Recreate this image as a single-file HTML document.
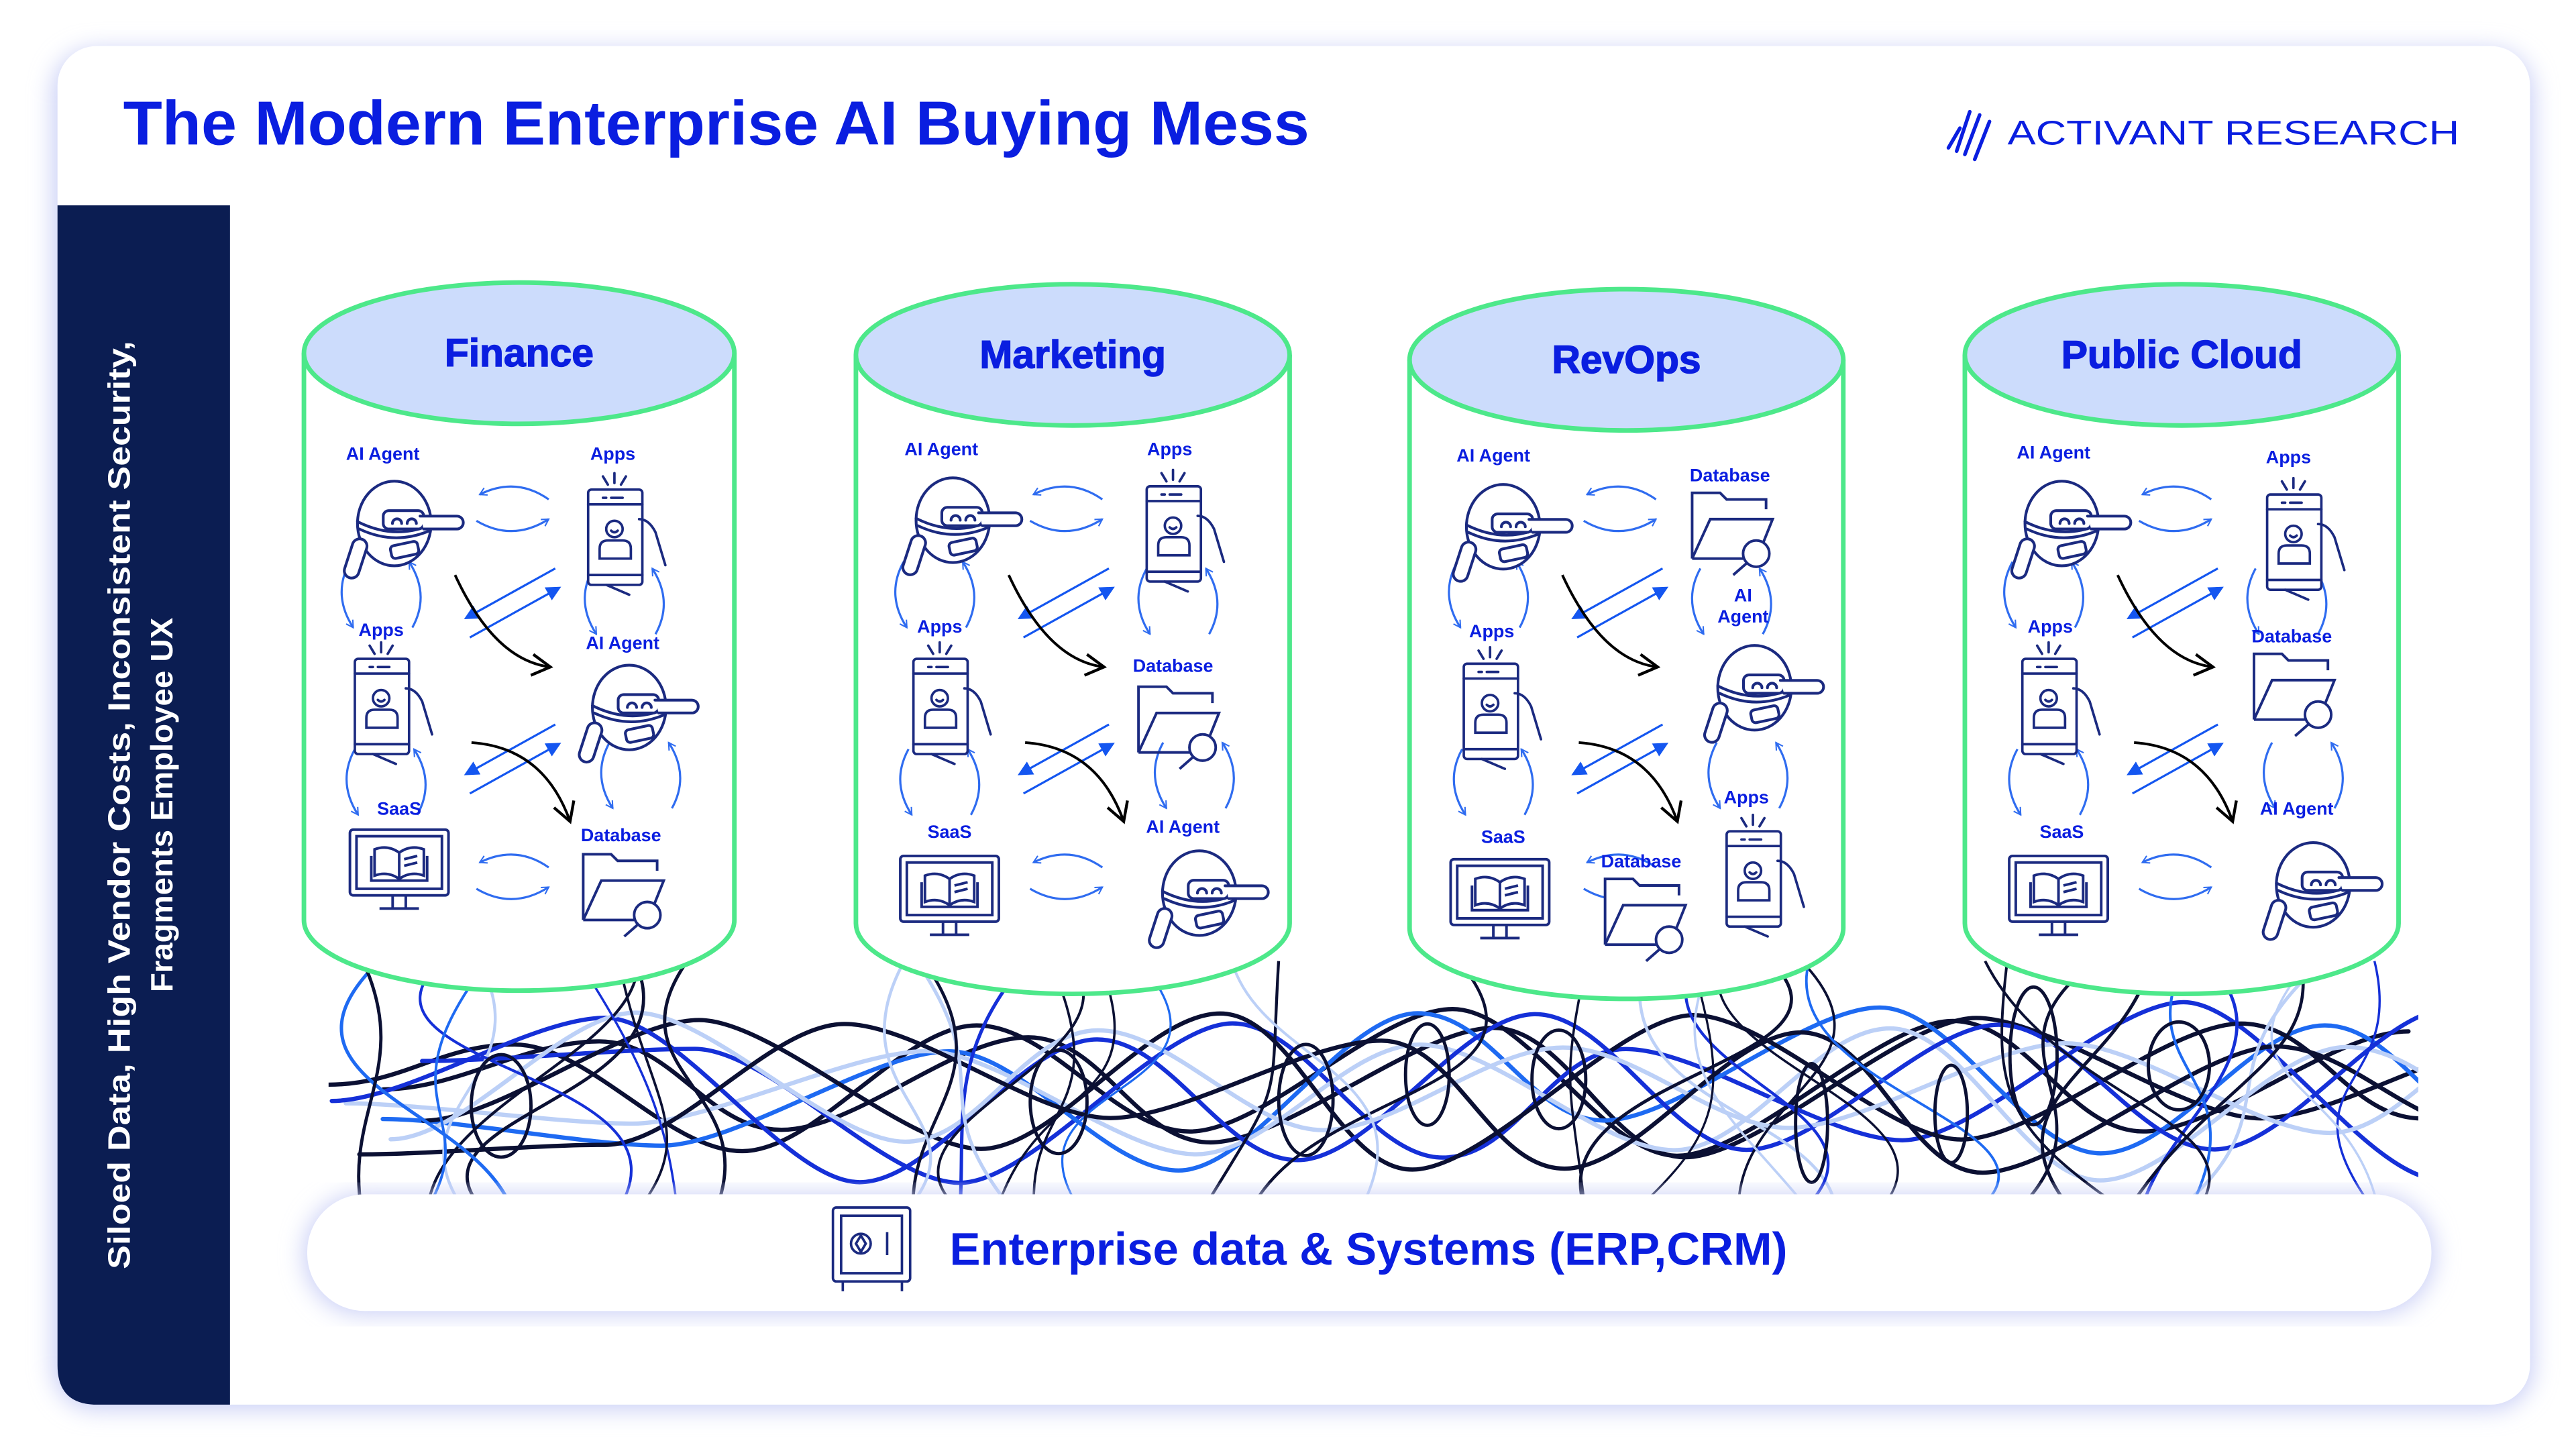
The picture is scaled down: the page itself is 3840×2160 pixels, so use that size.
<!DOCTYPE html>
<html><head><meta charset="utf-8">
<style>
html,body{margin:0;padding:0;background:#fff;width:3840px;height:2160px;overflow:hidden}
svg{display:block}
text{font-family:"Liberation Sans",sans-serif}
</style></head>
<body>
<svg id="s" width="3840" height="2160" viewBox="0 0 1568 882" xmlns="http://www.w3.org/2000/svg">
<defs>
<clipPath id="wc"><rect x="200" y="560" width="1272" height="190"/></clipPath>
<filter id="sh" x="-10%" y="-10%" width="120%" height="120%"><feGaussianBlur stdDeviation="7"/></filter>
<marker id="oa" viewBox="0 0 10 10" refX="8" refY="5" markerWidth="6" markerHeight="6" orient="auto" markerUnits="userSpaceOnUse"><path d="M1,1 L8,5 L1,9" fill="none" stroke="#2f6cf0" stroke-width="1.4"/></marker>
<marker id="ba" viewBox="0 0 10 10" refX="8" refY="5" markerWidth="16" markerHeight="16" orient="auto" markerUnits="userSpaceOnUse"><path d="M1,1 L8,5 L1,9" fill="none" stroke="#000" stroke-width="1.1"/></marker>
<marker id="fa" viewBox="0 0 10 10" refX="8" refY="5" markerWidth="9" markerHeight="9" orient="auto" markerUnits="userSpaceOnUse"><path d="M0,0 L10,5 L0,10 z" fill="#1456f0"/></marker>
<g id="robot" fill="none" stroke="#1b2a80" stroke-width="1.5" stroke-linecap="round" transform="scale(1.12)">
<ellipse cx="0" cy="-3" rx="20" ry="23" fill="#fff"/>
<path d="M-20,-4 Q0,6 19,-2"/><path d="M-19,0 Q0,9 19,1"/>
<rect x="-6" y="-10" width="22" height="10" rx="3" fill="#fff"/>
<path d="M14,-7 H34 a3.5,3.5 0 0 1 0,7 H16" fill="#fff"/>
<path d="M-1,-3 a2.5,2.5 0 0 1 5,0 M7,-3 a2.5,2.5 0 0 1 5,0"/>
<rect x="-2" y="8" width="15" height="7" rx="2" transform="rotate(-12 5 11)"/>
<rect x="-25" y="5" width="8" height="22" rx="4" transform="rotate(18 -21 16)" fill="#fff"/>
</g>
<g id="phone" fill="none" stroke="#1b2a80" stroke-width="1.5" stroke-linecap="round">
<rect x="-17" y="-26" width="33" height="58" rx="2" fill="#fff"/>
<path d="M-17,-17 H16 M-17,26 H16 M-8,-21 H-6 M-3,-21 H4"/>
<circle cx="-1" cy="-2" r="5"/><path d="M-3,-1 Q-1,1 1,-1"/>
<path d="M-10,16 V10 Q-10,5 -5,5 H4 Q9,5 9,10 V16 Z"/>
<path d="M14,-8 Q20,-8 24,0 L30,20 M-6,32 L8,38"/>
<path d="M-8,-34 L-5,-29 M-1,-36 V-30 M6,-34 L3,-29"/>
</g>
<g id="monitor" fill="none" stroke="#1b2a80" stroke-width="1.6">
<rect x="-30" y="-22" width="60" height="40" rx="2" fill="#fff"/>
<rect x="-26" y="-18" width="52" height="32"/>
<path d="M-15,6 V-10 Q-7,-13 0,-8 Q7,-13 15,-10 V6 Q7,3 0,8 Q-7,3 -15,6 Z M0,-8 V8 M3,-4 L11,-6 M3,0 L11,-2"/>
<path d="M-17,-6 V9 H17 V-6"/>
<path d="M-4,18 V26 M4,18 V26 M-12,26 H12"/>
</g>
<g id="folder" fill="none" stroke="#1b2a80" stroke-width="1.6">
<path d="M-25,20 V-20 H-8 L-4,-16 H20 V-10" fill="#fff"/>
<path d="M-25,20 L-14,-4 H24 L16,16"/>
<path d="M-25,20 H6"/>
<circle cx="14" cy="17" r="8" fill="#fff"/>
<path d="M8,23 L0,30"/>
</g>
<g id="hpair" fill="none" stroke="#2f6cf0" stroke-width="1.3">
<path d="M22,-6 Q2,-20 -20,-9" marker-end="url(#oa)"/>
<path d="M-22,7 Q0,20 22,6" marker-end="url(#oa)"/>
</g>
<g id="vpair" fill="none" stroke="#2f6cf0" stroke-width="1.3">
<path d="M-19,-20 Q-30,0 -17,20" marker-end="url(#oa)"/>
<path d="M19,20 Q30,0 17,-20" marker-end="url(#oa)"/>
</g>
<g id="diag" fill="none" stroke="#1456f0" stroke-width="1.3">
<path d="M28,-24 L-26,6" marker-end="url(#fa)"/>
<path d="M-24,18 L30,-12" marker-end="url(#fa)"/>
</g>
</defs>

<rect x="32" y="30" width="1510" height="828" rx="26" fill="#c9cff6" filter="url(#sh)"/>
<rect x="35" y="28" width="1505" height="827" rx="24" fill="#fff"/>
<path d="M35,125 H140 V855 H59 Q35,855 35,831 Z" fill="#0b1d52"/>
<g transform="translate(87,490) rotate(-90)" fill="#fff" font-weight="bold" font-size="19" text-anchor="middle">
<text x="0" y="-8" textLength="565" lengthAdjust="spacingAndGlyphs">Siloed Data, High Vendor Costs, Inconsistent Security,</text>
<text x="0" y="18" textLength="228" lengthAdjust="spacingAndGlyphs">Fragments Employee UX</text>
</g>
<text x="75" y="88" font-size="38" font-weight="bold" fill="#0a1ee0" textLength="722" lengthAdjust="spacingAndGlyphs">The Modern Enterprise AI Buying Mess</text>
<g stroke="#0a1ee0" stroke-width="2.2" stroke-linecap="round">
<path d="M1199,68 L1191,92 M1205,70 L1196,94 M1211,74 L1202,97 M1193,78 L1186,90"/>
</g>
<text x="1222" y="88" font-size="21" fill="#0a1ee0" textLength="275" lengthAdjust="spacingAndGlyphs">ACTIVANT RESEARCH</text>

<g id="wires" clip-path="url(#wc)"></g>
<g id="cyls"></g>

<rect x="185" y="727" width="1297" height="73" rx="36" fill="#c9cff6" filter="url(#sh)"/>
<rect x="187" y="727" width="1293" height="71" rx="35" fill="#fff"/>
<g fill="none" stroke="#1b2a80" stroke-width="1.5">
<rect x="507" y="735" width="47" height="45" rx="2"/>
<rect x="512" y="740" width="37" height="35"/>
<circle cx="524" cy="757" r="6"/><path d="M524,752 L527,757 L524,762 L521,757 Z"/>
<path d="M540,750 V764 M513,780 V786 M549,780 V786"/>
</g>
<text x="578" y="770" font-size="28" font-weight="bold" fill="#0a1ee0" textLength="510" lengthAdjust="spacingAndGlyphs">Enterprise data &amp; Systems (ERP,CRM)</text>
</svg>
<script>
(function(){
var NS="http://www.w3.org/2000/svg";
function el(p,t,a,txt){var e=document.createElementNS(NS,t);for(var k in a)e.setAttribute(k,a[k]);if(txt)e.textContent=txt;p.appendChild(e);return e;}
var seed=11;function r(){seed=(seed*16807)%2147483647;return (seed-1)/2147483646;}
var W=document.getElementById('wires');
var cols=["#0b1033","#0b1033","#0b1033","#1530d8","#1e6af2","#bcd0f7"];
var thick=["#0b1033","#0b1033","#1530d8","#1e6af2","#bcd0f7","#0b1033","#1530d8","#bcd0f7","#0b1033"];
for(var i=0;i<thick.length;i++){
 var c=thick[i];
 var x=200+r()*60, y=620+r()*90, d="M"+x+","+y, up=r()<0.5;
 while(x<1440){var nx=x+110+r()*70,ny=up?(610+r()*30):(680+r()*40);up=!up;
  d+=" C"+(x+45)+","+y+" "+(nx-45)+","+ny+" "+nx+","+ny;x=nx;y=ny;}
 el(W,'path',{d:d,fill:"none",stroke:c,"stroke-width":2.6,"stroke-linecap":"round"});
}
var ranges=[[205,440],[530,780],[870,1115],[1205,1455]];
for(var i=0;i<40;i++){
 var R=ranges[i%4];var x0=R[0]+r()*(R[1]-R[0]);
 var x1=x0+(r()-0.5)*260; if(x1<210)x1=210+r()*20; if(x1>1465)x1=1450-r()*20;
 var c=cols[Math.floor(r()*cols.length)];
 var d="M"+x0+",585 C"+(x0+(r()-0.5)*160)+","+(640+r()*40)+" "+(x1+(r()-0.5)*160)+","+(650+r()*40)+" "+x1+",740";
 el(W,'path',{d:d,fill:"none",stroke:c,"stroke-width":1.3+r()*0.8});
}
for(var i=0;i<9;i++){
 var cx=240+r()*1200, cy=640+r()*50, c=cols[Math.floor(r()*3)];
 el(W,'ellipse',{cx:cx,cy:cy,rx:8+r()*12,ry:25+r()*18,fill:"none",stroke:c,"stroke-width":2});
}
var C=document.getElementById('cyls');
var cyl=[
 {cx:316,rx:131,top:215,bot:560,name:"Finance",items:[["robot","AI Agent",233,276,240,322],["phone","Apps",373,276,375,324],["phone","Apps",232,383,233,427],["robot","AI Agent",379,391,383,434],["monitor","SaaS",243,492,243,527],["folder","Database",378,508,380,540]]},
 {cx:653,rx:132,top:216,bot:562,name:"Marketing",items:[["robot","AI Agent",573,273,580,320],["phone","Apps",712,273,715,322],["phone","Apps",572,381,573,427],["folder","Database",714,405,718,438],["monitor","SaaS",578,506,578,543],["robot","AI Agent",720,503,730,547]]},
 {cx:990,rx:132,top:219,bot:565,name:"RevOps",items:[["robot","AI Agent",909,277,915,324],["folder","Database",1053,289,1055,320],["robot","AI Agent",1061,370,1068,422],["phone","Apps",908,384,908,430],["monitor","SaaS",915,509,913,545],["folder","Database",999,524,1002,555],["phone","Apps",1063,485,1068,532]]},
 {cx:1328,rx:132,top:216,bot:562,name:"Public Cloud",items:[["robot","AI Agent",1250,275,1255,322],["phone","Apps",1393,278,1397,327],["phone","Apps",1248,381,1248,427],["folder","Database",1395,387,1397,418],["monitor","SaaS",1255,506,1253,543],["robot","AI Agent",1398,492,1408,542]]}
];
cyl.forEach(function(o){
 var g=el(C,'g',{});
 var x1=o.cx-o.rx,x2=o.cx+o.rx,ry=43;
 el(g,'path',{d:"M"+x1+","+o.top+" V"+o.bot+" A"+o.rx+","+ry+" 0 0 0 "+x2+","+o.bot+" V"+o.top,fill:"#fff",stroke:"#4de88a","stroke-width":2.8});
 el(g,'ellipse',{cx:o.cx,cy:o.top,rx:o.rx,ry:ry,fill:"#ccdcfc",stroke:"#4de88a","stroke-width":2.8});
 el(g,'text',{x:o.cx,y:o.top+8,"font-size":24,"font-weight":"bold",fill:"#0a1ee0","text-anchor":"middle",stroke:"#0a1ee0","stroke-width":0.6},o.name);
 var cx=o.cx;
 [["hpair",cx-4,310],["vpair",cx-84,362],["vpair",cx+64,366],["diag",cx-6,370],["diag",cx-6,465],["vpair",cx-81,476],["vpair",cx+74,472],["hpair",cx-4,534]].forEach(function(u){
  el(g,'use',{href:"#"+u[0],x:u[1],y:u[2]});});
 el(g,'path',{d:"M"+(cx-39)+",350 Q"+(cx-15)+",402 "+(cx+19)+",406",fill:"none",stroke:"#000","stroke-width":1.6,"marker-end":"url(#ba)"});
 el(g,'path',{d:"M"+(cx-29)+",452 Q"+(cx+15)+",455 "+(cx+31)+",500",fill:"none",stroke:"#000","stroke-width":1.6,"marker-end":"url(#ba)"});
 o.items.forEach(function(it){
  el(g,'use',{href:"#"+it[0],x:it[4],y:it[5]});
  if(it[1]=="AI Agent"&&o.name=="RevOps"&&it[2]==1061){
   el(g,'text',{x:it[2],y:it[3]-4,"font-size":11,"font-weight":"bold",fill:"#0a1ee0","text-anchor":"middle"},"AI");
   el(g,'text',{x:it[2],y:it[3]+9,"font-size":11,"font-weight":"bold",fill:"#0a1ee0","text-anchor":"middle"},"Agent");
  } else el(g,'text',{x:it[2],y:it[3]+4,"font-size":11,"font-weight":"bold",fill:"#0a1ee0","text-anchor":"middle"},it[1]);
 });
});
})();
</script>
</body></html>
